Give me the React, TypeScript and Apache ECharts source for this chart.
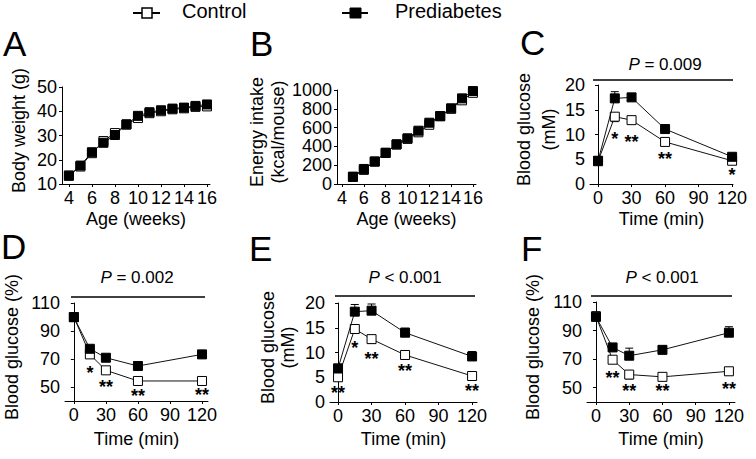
import React, { useEffect, useRef } from "react";
import * as echarts from "echarts";

// ---------- data ----------
const ageA = [4, 5, 6, 7, 8, 9, 10, 11, 12, 13, 14, 15, 16];
const bodyWeightControl = [13.5, 17.2, 22.7, 27.7, 31.0, 34.5, 37.2, 39.2, 40.0, 40.8, 41.2, 41.8, 42.0];
const bodyWeightPre = [13.4, 17.6, 23.1, 27.0, 30.2, 34.6, 38.1, 39.6, 40.4, 41.1, 41.5, 42.2, 42.8];

const ageB = [5, 6, 7, 8, 9, 10, 11, 12, 13, 14, 15, 16];
const energyControl = [75, 150, 240, 330, 420, 480, 550, 630, 720, 800, 890, 970];
const energyPre = [78, 160, 238, 333, 422, 486, 567, 652, 723, 805, 911, 989];

const ageTicks = [4, 6, 8, 10, 12, 14, 16];
const timePoints = [0, 15, 30, 60, 120];
const timeTicks = [0, 30, 60, 90, 120];
const pctTicks = [50, 70, 90, 110];

// C: glucose tolerance (mM)
const cControl = [4.6, 13.6, 12.9, 8.5, 4.7];
const cControlErr = [0.3, 1.0, 0.4, 0.4, 0.3];
const cPre = [4.7, 17.3, 17.5, 11.1, 5.5];
const cPreErr = [0.3, 1.35, 0.8, 0.8, 0.4];
const cStars = [["*", 15, 9.9], ["**", 30, 9.3], ["**", 60, 5.9], ["*", 120, 2.6]];

// D: insulin tolerance (%)
const dControl = [100, 73.3, 61.9, 54.3, 54.3];
const dControlErr = [2, 2, 2, 3, 1.5];
const dPre = [99.8, 77.3, 70.9, 65.0, 73.3];
const dPreErr = [2, 2, 1.5, 2, 2];
const dStars = [["*", 15, 62.7], ["**", 30, 52.8], ["**", 60, 46.5], ["**", 120, 47.2]];

// E: glucose tolerance (mM)
const eControl = [5.0, 14.75, 12.7, 9.5, 5.25];
const eControlErr = [0.4, 0.5, 0.85, 0.4, 0.3];
const ePre = [6.8, 18.25, 18.45, 14.0, 9.2];
const ePreErr = [0.4, 1.45, 1.35, 0.9, 1.0];
const eStars = [["**", 0, 2.6], ["*", 15, 11.7], ["**", 30, 9.5], ["**", 60, 7.1], ["**", 120, 3.0]];

// F: insulin tolerance (%)
const fControl = [100, 69.6, 59.2, 57.6, 61.5];
const fControlErr = [2, 2, 3, 1.5, 2.5];
const fPre = [99.6, 78.2, 72.4, 76.5, 88.5];
const fPreErr = [3.5, 2, 5.3, 2.7, 4.2];
const fStars = [["**", 15, 59.8], ["**", 30, 50.7], ["**", 60, 50.7], ["**", 120, 52.1]];

const pValues = ["= 0.009", "= 0.002", "< 0.001", "< 0.001"];
const panelLetters = ["A", "B", "C", "D", "E", "F"];
const seriesNames = ["Control", "Prediabetes"];

// ---------- helpers ----------
const FONT = '"Liberation Sans", Arial, Helvetica, sans-serif';
const BLACK = "#000";
const plain = (v: number) => String(v);

const pairs = (xs: number[], ys: number[]) => xs.map((x, i) => [x, ys[i]]);
const errData = (xs: number[], ys: number[], es: number[], dir: number) =>
  xs.map((x, i) => [x, ys[i], es[i], dir]);

function xAxis(gridIndex: number, min: number, max: number, ticks: number[], name: string, nameGap: number) {
  return {
    type: "value",
    gridIndex,
    min,
    max,
    name,
    nameLocation: "middle",
    nameGap,
    nameTextStyle: { fontFamily: FONT, fontSize: 18, color: BLACK },
    axisLine: { show: true, onZero: false, lineStyle: { color: BLACK, width: 1 } },
    axisTick: { show: true, length: 3, customValues: ticks, lineStyle: { color: BLACK, width: 1 } },
    axisLabel: { customValues: ticks, formatter: plain, fontFamily: FONT, fontSize: 18, color: BLACK, margin: 5 },
    splitLine: { show: false },
  };
}

function yAxis(gridIndex: number, min: number, max: number, ticks: number[] | null, interval: number | null, name: string, nameGap: number, lineHeight: number) {
  const tickCfg: any = { show: true, length: 3, lineStyle: { color: BLACK, width: 1 } };
  const labelCfg: any = { formatter: plain, fontFamily: FONT, fontSize: 18, color: BLACK, margin: 5 };
  if (ticks) {
    tickCfg.customValues = ticks;
    labelCfg.customValues = ticks;
  }
  const ax: any = {
    type: "value",
    gridIndex,
    min,
    max,
    name,
    nameLocation: "middle",
    nameRotate: 90,
    nameGap,
    nameTextStyle: { fontFamily: FONT, fontSize: 18, color: BLACK, lineHeight, padding: [0, 0, 0, 10] },
    axisLine: { show: true, lineStyle: { color: BLACK, width: 1 } },
    axisTick: tickCfg,
    axisLabel: labelCfg,
    splitLine: { show: false },
  };
  if (interval) ax.interval = interval;
  return ax;
}

function lineSeries(idx: number, data: number[][], filled: boolean, name: string) {
  return {
    type: "line",
    name,
    xAxisIndex: idx,
    yAxisIndex: idx,
    data,
    symbol: "rect",
    symbolSize: 9,
    z: filled ? 4 : 3,
    lineStyle: { color: "#111", width: 1 },
    itemStyle: { color: filled ? BLACK : "#fff", borderColor: BLACK, borderWidth: 1 },
    emphasis: { disabled: true },
  };
}

function errorSeries(idx: number, data: number[][]) {
  return {
    type: "custom",
    xAxisIndex: idx,
    yAxisIndex: idx,
    z: 2,
    data,
    encode: { x: 0, y: 1 },
    renderItem: (_params: any, api: any) => {
      const x = api.value(0);
      const y = api.value(1);
      const e = api.value(2);
      const d = api.value(3);
      const p0 = api.coord([x, y]);
      const p1 = api.coord([x, y + d * e]);
      return {
        type: "group",
        children: [
          { type: "line", shape: { x1: p0[0], y1: p0[1], x2: p1[0], y2: p1[1] }, style: { stroke: BLACK, lineWidth: 1 } },
          { type: "line", shape: { x1: p1[0] - 4, y1: p1[1], x2: p1[0] + 4, y2: p1[1] }, style: { stroke: BLACK, lineWidth: 1 } },
        ],
      };
    },
  };
}

function starSeries(idx: number, stars: any[]) {
  return {
    type: "scatter",
    xAxisIndex: idx,
    yAxisIndex: idx,
    z: 5,
    symbol: "circle",
    symbolSize: 1,
    itemStyle: { color: "#fff", opacity: 1 },
    data: stars.map((s) => ({ name: s[0], value: [s[1], s[2]] })),
    label: {
      show: true,
      position: "inside",
      formatter: "{b}",
      fontFamily: FONT,
      fontSize: 18,
      fontWeight: "bold",
      color: BLACK,
      opacity: 1,
      textBorderWidth: 0,
      textBorderColor: "transparent",
      offset: [0, 4],
    },
    emphasis: { disabled: true },
  };
}

function pText(x: number, y: number, v: string) {
  return {
    type: "text",
    x,
    y,
    style: {
      text: "{i|P} " + v,
      fontFamily: FONT,
      fontSize: 17,
      fill: BLACK,
      align: "center",
      verticalAlign: "middle",
      rich: { i: { fontStyle: "italic", fontFamily: FONT, fontSize: 17, fill: BLACK } },
    },
  };
}

function hLine(x1: number, x2: number, y: number, w: number) {
  return { type: "line", shape: { x1, y1: y, x2, y2: y }, style: { stroke: BLACK, lineWidth: w } };
}

function letter(t: string, x: number, y: number) {
  return {
    type: "text",
    x,
    y,
    style: { text: t, fontFamily: FONT, fontSize: 35, fill: BLACK, align: "left", verticalAlign: "middle" },
  };
}

export default function App() {
  const ref = useRef<HTMLDivElement>(null);

  useEffect(() => {
    if (!ref.current) return;
    const chart = echarts.init(ref.current, null, { renderer: "svg" });

    const grids = [
      { left: 62, top: 87, width: 148, height: 97 },
      { left: 337, top: 90, width: 139, height: 94 },
      { left: 590, top: 85, width: 143, height: 99 },
      { left: 63, top: 303, width: 145, height: 98 },
      { left: 330, top: 303, width: 147, height: 99 },
      { left: 587, top: 302, width: 148, height: 100 },
    ];

    const xAxes = [
      xAxis(0, 3.4, 16.26, ageTicks, "Age (weeks)", 26),
      xAxis(1, 3.54, 16.28, ageTicks, "Age (weeks)", 26),
      xAxis(2, -7.2, 120.8, timeTicks, "Time (min)", 26),
      xAxis(3, -8.3, 125.6, timeTicks, "Time (min)", 29),
      xAxis(4, -7.2, 124.4, timeTicks, "Time (min)", 28),
      xAxis(5, -8.1, 125.5, timeTicks, "Time (min)", 28),
    ];

    const yAxes = [
      yAxis(0, 10, 50, null, 10, "Body weight (g)", 33, 21),
      yAxis(1, 0, 1000, null, 200, "Energy intake\n(kcal/mouse)", 48, 21),
      yAxis(2, 0, 20, null, 5, "Blood glucose\n(mM)", 22, 25),
      yAxis(3, 40, 110, pctTicks, null, "Blood glucose (%)", 43, 21),
      yAxis(4, 0, 20, null, 5, "Blood glucose\n(mM)", 32, 20),
      yAxis(5, 40, 110, pctTicks, null, "Blood glucose (%)", 44, 21),
    ];

    const series: any[] = [
      lineSeries(0, pairs(ageA, bodyWeightControl), false, seriesNames[0]),
      lineSeries(0, pairs(ageA, bodyWeightPre), true, seriesNames[1]),
      lineSeries(1, pairs(ageB, energyControl), false, seriesNames[0]),
      lineSeries(1, pairs(ageB, energyPre), true, seriesNames[1]),

      errorSeries(2, errData(timePoints, cControl, cControlErr, -1)),
      errorSeries(2, errData(timePoints, cPre, cPreErr, 1)),
      lineSeries(2, pairs(timePoints, cControl), false, seriesNames[0]),
      lineSeries(2, pairs(timePoints, cPre), true, seriesNames[1]),
      starSeries(2, cStars),

      errorSeries(3, errData(timePoints, dControl, dControlErr, -1)),
      errorSeries(3, errData(timePoints, dPre, dPreErr, 1)),
      lineSeries(3, pairs(timePoints, dControl), false, seriesNames[0]),
      lineSeries(3, pairs(timePoints, dPre), true, seriesNames[1]),
      starSeries(3, dStars),

      errorSeries(4, errData(timePoints, eControl, eControlErr, -1)),
      errorSeries(4, errData(timePoints, ePre, ePreErr, 1)),
      lineSeries(4, pairs(timePoints, eControl), false, seriesNames[0]),
      lineSeries(4, pairs(timePoints, ePre), true, seriesNames[1]),
      starSeries(4, eStars),

      errorSeries(5, errData(timePoints, fControl, fControlErr, -1)),
      errorSeries(5, errData(timePoints, fPre, fPreErr, 1)),
      lineSeries(5, pairs(timePoints, fControl), false, seriesNames[0]),
      lineSeries(5, pairs(timePoints, fPre), true, seriesNames[1]),
      starSeries(5, fStars),
    ];

    const graphic: any[] = [
      // legend
      hLine(133, 160, 13, 2),
      { type: "rect", shape: { x: 142, y: 8, width: 10, height: 10 }, style: { fill: "#fff", stroke: BLACK, lineWidth: 1.5 } },
      { type: "text", x: 182, y: 11, style: { text: seriesNames[0], fontFamily: FONT, fontSize: 20, fill: BLACK, align: "left", verticalAlign: "middle" } },
      hLine(342, 368, 13, 2),
      { type: "rect", shape: { x: 350, y: 8, width: 11, height: 10 }, style: { fill: BLACK, stroke: BLACK, lineWidth: 1 } },
      { type: "text", x: 395, y: 11, style: { text: seriesNames[1], fontFamily: FONT, fontSize: 20, fill: BLACK, align: "left", verticalAlign: "middle" } },
      // panel letters
      letter(panelLetters[0], 3, 43),
      letter(panelLetters[1], 250, 43),
      letter(panelLetters[2], 520, 42),
      letter(panelLetters[3], 1, 246),
      letter(panelLetters[4], 249, 248),
      letter(panelLetters[5], 521, 248),
      // P value annotations
      hLine(593, 733, 80, 1.6),
      pText(665, 64, pValues[0]),
      hLine(71, 205, 297, 1.6),
      pText(137, 277, pValues[1]),
      hLine(335, 475, 296, 1.6),
      pText(405, 277, pValues[2]),
      hLine(591, 732, 296, 1.6),
      pText(662, 277, pValues[3]),
    ];

    chart.setOption({
      animation: false,
      backgroundColor: "#fff",
      textStyle: { fontFamily: FONT },
      grid: grids,
      xAxis: xAxes,
      yAxis: yAxes,
      series,
      graphic,
    });

    return () => chart.dispose();
  }, []);

  return (
    <div
      ref={ref}
      style={{ position: "fixed", left: 0, top: 0, width: 756, height: 459, background: "#fff" }}
    />
  );
}
